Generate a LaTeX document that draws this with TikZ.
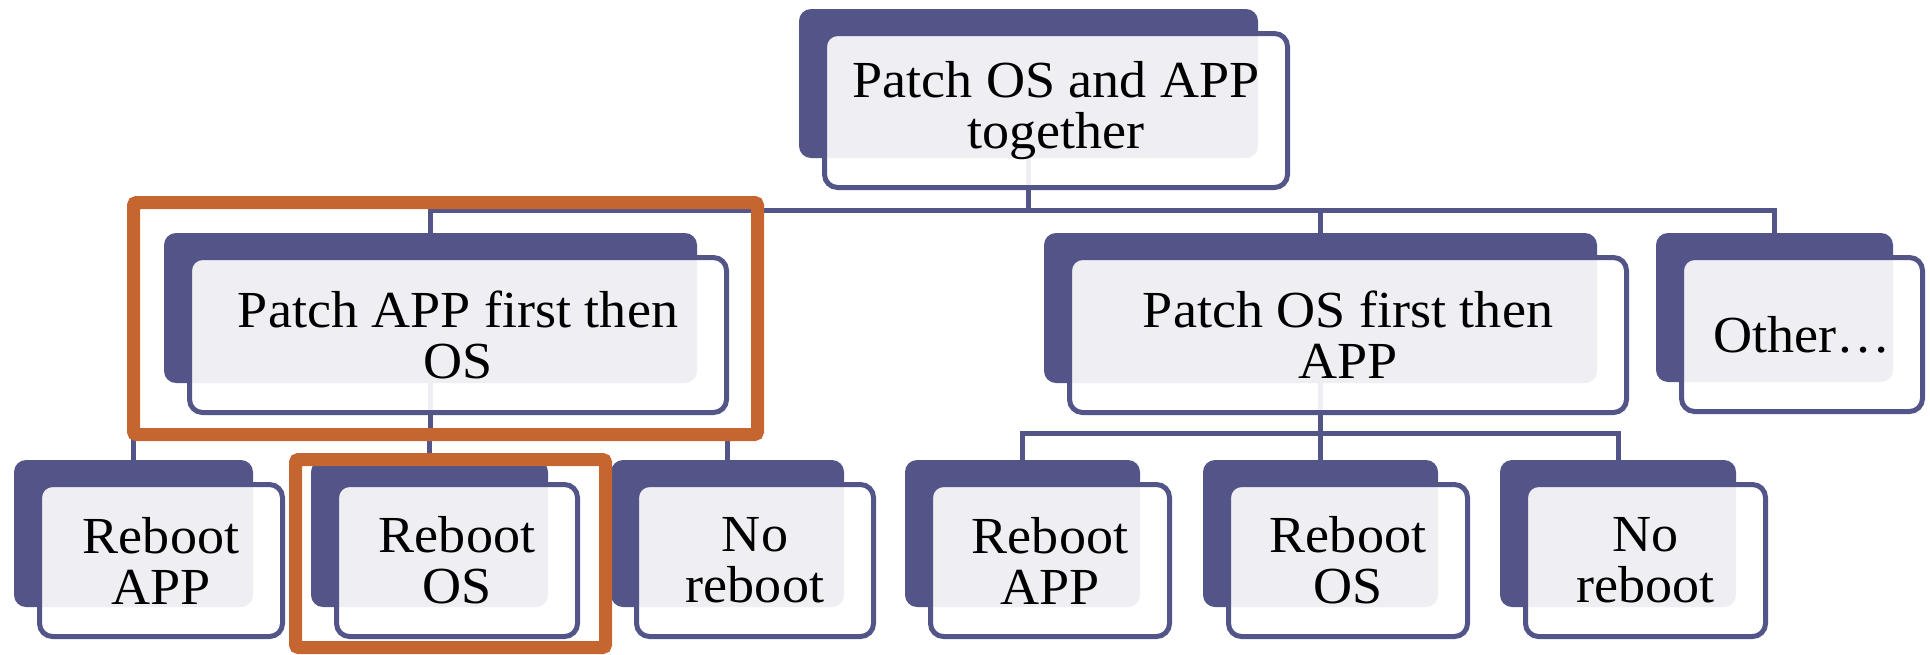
\documentclass[tikz,border=0pt]{standalone}
\usepackage{fontspec}
\setmainfont{Liberation Serif}[FakeStretch=1.04]
\usetikzlibrary{backgrounds}

\definecolor{plum}{RGB}{83,85,137}
\definecolor{rust}{RGB}{197,101,47}

\tikzset{
  backbox/.style={fill=plum, rounded corners=12pt, inner sep=0pt, outer sep=0pt},
  frontbox/.style={draw=plum, line width=5pt, fill=white, fill opacity=0.9,
    text opacity=1, rounded corners=13pt, inner sep=0pt, outer sep=0pt,
    align=center, font=\fontsize{52}{51}\selectfont},
  conn/.style={draw=plum, line width=5pt},
  hilite/.style={draw=rust, line width=13pt, rounded corners=3pt},
}

% tier node: name, left, top, right, bottom of the dark tab, label
\newcommand\tiernode[6]{%
  \node[backbox, minimum width={(#4)-(#2)}, minimum height={(#5)-(#3)}]
    (#1) at ({((#2)+(#4))/2},{((#3)+(#5))/2}) {};
  \node[frontbox, minimum width={(#4)-(#2)+4}, minimum height={(#5)-(#3)+5}]
    (#1f) at ({((#2)+(#4))/2+27.5},{((#3)+(#5))/2+27}) {#6};
}

\begin{document}
\begin{tikzpicture}[x=1pt, y=-1pt]
\useasboundingbox (0,0) rectangle (1930,654);

% level 1
\tiernode{T}{799}{9}{1258}{158}{Patch OS and APP\\together}
% level 2
\tiernode{L}{164}{233}{697}{383}{Patch APP first then\\OS}
\tiernode{M}{1044}{233}{1597}{383}{Patch OS first then\\APP}
\tiernode{O}{1656}{233}{1893}{382}{Other…}
% level 3
\tiernode{RAa}{14}{460}{253}{607}{Reboot\\APP}
\tiernode{ROa}{311}{460}{548}{607}{Reboot\\OS}
\tiernode{NRa}{611}{460}{844}{607}{No\\reboot}
\tiernode{RAb}{905}{460}{1140}{607}{Reboot\\APP}
\tiernode{ROb}{1203}{460}{1438}{607}{Reboot\\OS}
\tiernode{NRb}{1500}{460}{1736}{607}{No\\reboot}

% connectors
\begin{scope}[on background layer]
  \coordinate (busA) at (0,210);
  \coordinate (busB) at (0,433);
  \draw[conn] (T.south) -- (T.south |- busA) -| (L.north);
  \draw[conn] (T.south |- busA) -| (M.north);
  \draw[conn] (T.south |- busA) -| (O.north);
  \draw[conn] (L.south) -- (L.south |- busB) -| (RAa.north);
  \draw[conn] (L.south |- busB) -| (ROa.north);
  \draw[conn] (L.south |- busB) -| (NRa.north);
  \draw[conn] (M.south) -- (M.south |- busB) -| (RAb.north);
  \draw[conn] (M.south |- busB) -| (ROb.north);
  \draw[conn] (M.south |- busB) -| (NRb.north);
\end{scope}

% highlight frames
\draw[hilite] (133.5,202.5) rectangle (757.5,434.5);
\draw[hilite] (295.5,459.5) rectangle (605.5,647.5);
\end{tikzpicture}
\end{document}
